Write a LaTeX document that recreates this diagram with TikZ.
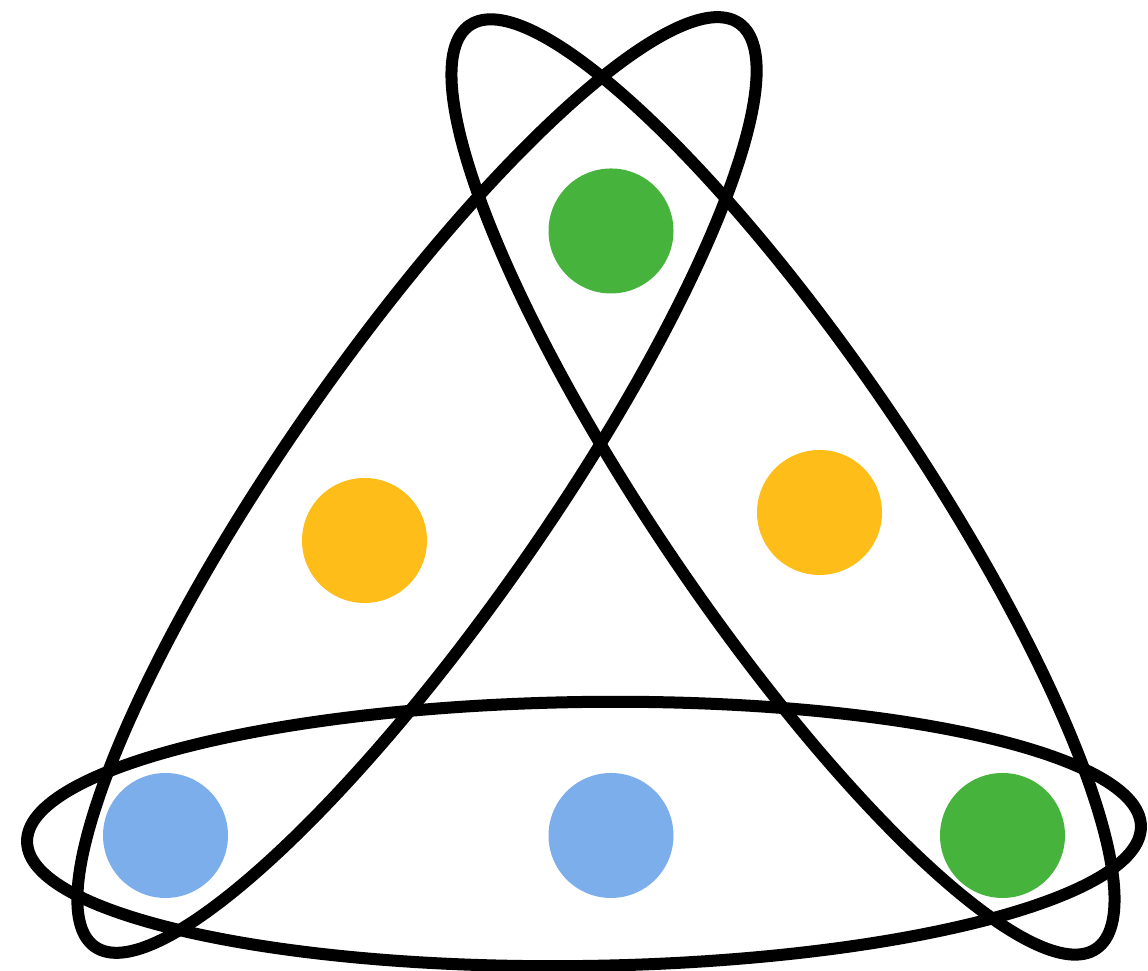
\documentclass[tikz,border=0pt]{standalone}
\usepackage{tikz}
\usetikzlibrary{calc}
\usepackage{xcolor}
\definecolor{dotgreen}{RGB}{70,180,60}
\definecolor{dotorange}{RGB}{254,189,24}
\definecolor{dotblue}{RGB}{125,174,236}

\begin{document}
\begin{tikzpicture}[x=0.01cm, y=0.01cm,
    ring/.style={draw=black, line width=0.12cm},
    dot/.style={fill=#1}]
    \useasboundingbox (0, 0) rectangle (1148, 971);

    % 圆点
    \fill[dot=dotgreen] (611, 740) circle (62.5);
    \fill[dot=dotorange] (364.5, 430.5) circle (62.5);
    \fill[dot=dotorange] (819.5, 458.5) circle (62.5);
    \fill[dot=dotblue] (165.5, 135.5) circle (62.5);
    \fill[dot=dotblue] (611, 135.5) circle (62.5);
    \fill[dot=dotgreen] (1002.5, 135.5) circle (62.5);

    % 三个椭圆
    \draw[ring, rotate around={0.8:(584, 137)}] (584, 137) ellipse (557 and 132);
    \draw[ring, rotate around={55.1:(417, 486)}] (417, 486) ellipse (563 and 131);
    \draw[ring, rotate around={-55.85:(783, 484)}] (783, 484) ellipse (558 and 131);
\end{tikzpicture}
\end{document}
